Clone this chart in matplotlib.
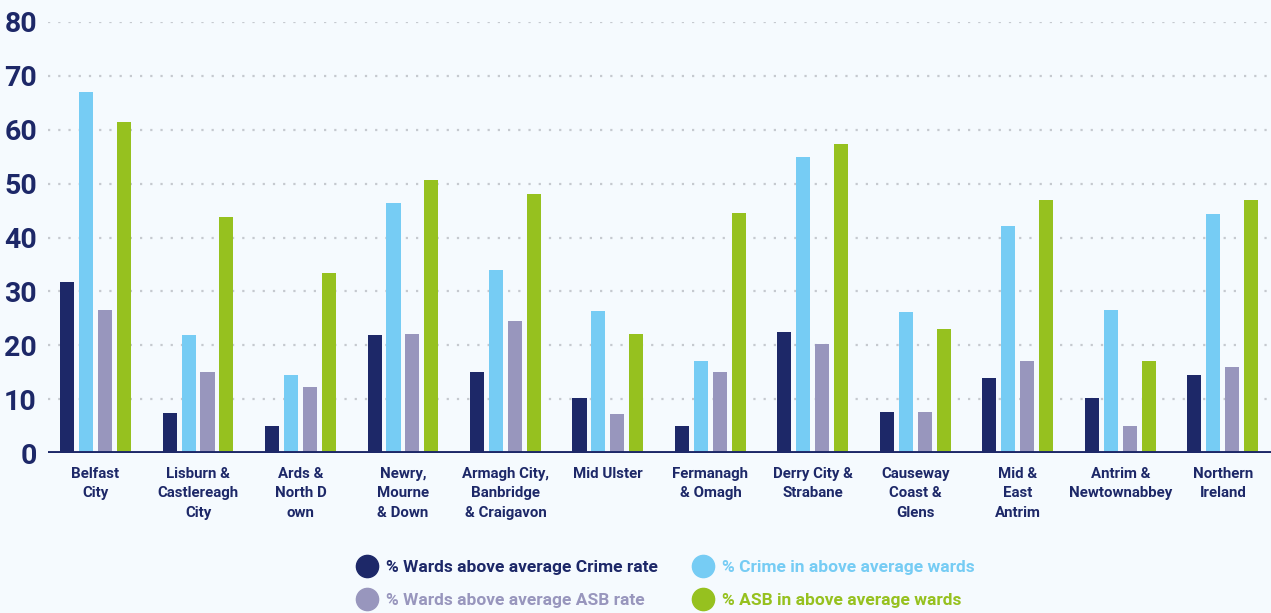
import matplotlib
matplotlib.use('Agg')
import matplotlib.pyplot as plt
from matplotlib.lines import Line2D
import numpy as np

# council areas along the x axis
areas = ["Belfast\nCity", "Lisburn &\nCastlereagh\nCity", "Ards &\nNorth D\nown",
         "Newry,\nMourne\n& Down", "Armagh City,\nBanbridge\n& Craigavon", "Mid Ulster",
         "Fermanagh\n& Omagh", "Derry City &\nStrabane", "Causeway\nCoast &\nGlens",
         "Mid &\nEast\nAntrim", "Antrim &\nNewtownabbey", "Northern\nIreland"]

wards_crime = [31.7, 7.4, 5.0, 21.9, 15.0, 10.3, 5.1, 22.4, 7.6, 13.9, 10.2, 14.4]
crime_in_wards = [67.0, 21.9, 14.4, 46.4, 33.9, 26.3, 17.0, 54.9, 26.1, 42.2, 26.5, 44.3]
wards_asb = [26.5, 15.0, 12.2, 22.0, 24.5, 7.2, 15.0, 20.2, 7.6, 17.0, 5.0, 15.9]
asb_in_wards = [61.4, 43.8, 33.4, 50.6, 48.0, 22.0, 44.6, 57.3, 23.1, 46.9, 17.0, 46.9]

series_labels = ["% Wards above average Crime rate", "% Crime in above average wards",
                 "% Wards above average ASB rate", "% ASB in above average wards"]
series_values = [wards_crime, crime_in_wards, wards_asb, asb_in_wards]
colors = ['#1d2868', '#76ccf4', '#9896bd', '#96c11f']

bg = '#f5fafe'
navy = '#1d2868'

plt.rcParams['font.family'] = ['Roboto', 'DejaVu Sans']
plt.rcParams['font.weight'] = 'bold'

fig = plt.figure(figsize=(12.71, 6.13), dpi=100, facecolor=bg)
ax = fig.add_axes([48 / 1271, 1 - 453 / 613, 1 - 48 / 1271, (453 - 22) / 613])
ax.set_facecolor(bg)

x = np.arange(len(areas))
width = 0.137
step = 0.185
for i in range(len(series_values)):
    offset = (i - 1.5) * step
    ax.bar(x + offset, series_values[i], width, color=colors[i], zorder=3)

ax.set_ylim(0, 80)
ax.set_xlim(-0.464, 11.47)
ax.set_yticks(range(0, 81, 10))
for yv in range(10, 81, 10):
    ax.axhline(yv, color='#c5c9cf', linewidth=1.6, linestyle=(0, (1, 3.6)), zorder=1)
ax.axhline(0, color=navy, linewidth=2.8, zorder=4)

for s in ax.spines.values():
    s.set_visible(False)
ax.tick_params(axis='both', length=0)
ax.tick_params(axis='y', pad=8, labelsize=20.5, labelcolor=navy)
ax.set_xticks(x)
ax.set_xticklabels(areas, fontsize=10.8, color=navy, linespacing=1.5)
ax.tick_params(axis='x', pad=10)
for lbl in ax.get_yticklabels():
    lbl.set_fontweight('bold')

# two one-column legends, circles with text in the series colour
cols = [[0, 2], [1, 3]]
anchors = [356 / 1271, 692 / 1271]
for c in range(2):
    handles = []
    for i in cols[c]:
        handles.append(Line2D([], [], marker='o', linestyle='none', markersize=16,
                              markerfacecolor=colors[i], markeredgecolor=colors[i]))
    leg = fig.legend(handles, [series_labels[i] for i in cols[c]],
                     loc='upper left', bbox_to_anchor=(anchors[c], 1 - 560 / 613),
                     frameon=False, fontsize=12.5, handletextpad=0.45, borderpad=0,
                     borderaxespad=0, labelspacing=1.02, handlelength=1.25,
                     labelcolor=[colors[i] for i in cols[c]])

fig.savefig('out.png', dpi=100, facecolor=bg)
